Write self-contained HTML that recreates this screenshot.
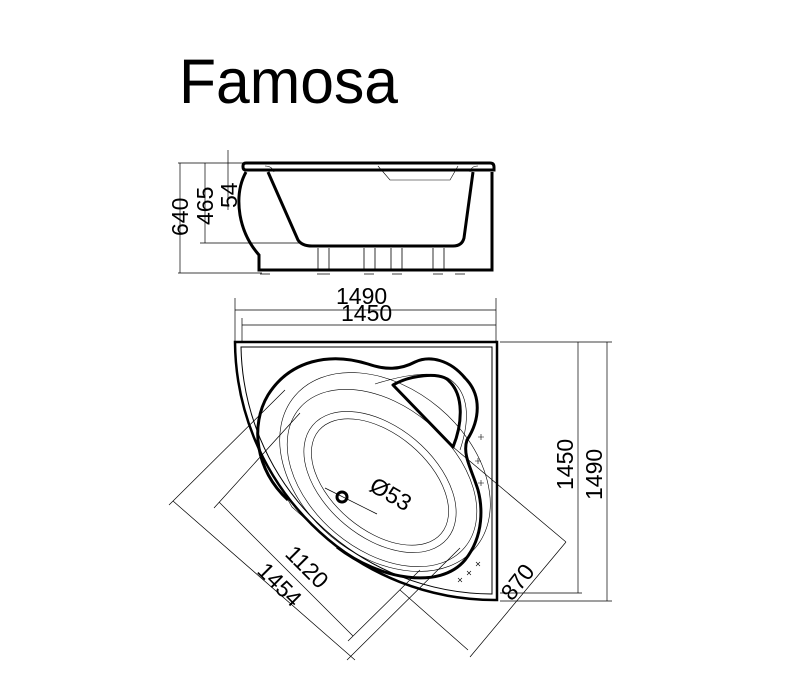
<!DOCTYPE html>
<html><head><meta charset="utf-8"><style>
html,body{margin:0;padding:0;background:#fff;width:800px;height:700px;overflow:hidden}
svg{display:block}
text{font-family:"Liberation Sans",sans-serif;fill:#000}
</style></head><body>
<svg width="800" height="700" viewBox="0 0 800 700" xmlns="http://www.w3.org/2000/svg">
<text x="179" y="103" font-size="63" textLength="219" lengthAdjust="spacingAndGlyphs">Famosa</text>

<!-- side view -->
<g fill="none" stroke="#000">
 <path d="M246,163 H490 Q494,163 494,167 V170 H246 Q243,170 243,167 V166 Q243,163 246,163 Z" stroke-width="3"/>
 <path d="M246,172 Q236,190 240,215 Q244,238 259,255 V270 H492 V172" stroke-width="3"/>
 <path d="M268,172 L298,240 Q302,246 312,246 H453 Q462,246 464,238 L473,172" stroke-width="3"/>
 <path d="M378,166 L390,180 H450 L458,166" stroke-width="0.6"/>
 <path d="M265,166 Q272,166 274,172 M470,172 Q471,166 478,166" stroke-width="0.6"/>
 <g stroke-width="0.8">
  <path d="M318,248 V270 M329,248 V270 M364,248 V270 M375,248 V270 M391,248 V270 M402,248 V270 M433,248 V270 M444,248 V270"/>
  <path d="M260,274 H270 M317,274 H330 M364,274 H374 M392,274 H402 M433,274 H443 M455,274 H465"/>
 </g>
 <g stroke-width="0.7">
  <path d="M178,163 H243 M178,273 H262 M200,243 H300 M180,163 V273 M205,163 V243 M228,150 V210 M222,163 H243"/>
 </g>
</g>
<g font-size="23">
 <text transform="translate(188,236) rotate(-90)">640</text>
 <text transform="translate(213,225) rotate(-90)">465</text>
 <text transform="translate(237,208) rotate(-90)">54</text>
</g>

<!-- top dims -->
<g stroke="#000" stroke-width="0.7" fill="none">
 <path d="M235,298 V342 M496,298 V342 M235,310 H496 M242,318 V342 M242,325 H496"/>
 <path d="M500,342 H612 M500,593 H582 M500,601 H612 M578,342 V593 M607,342 V601"/>
</g>
<text x="336" y="304" font-size="23">1490</text>
<text x="341" y="321" font-size="23">1450</text>
<text transform="translate(573,490) rotate(-90)" font-size="23">1450</text>
<text transform="translate(602,500) rotate(-90)" font-size="23">1490</text>

<!-- plan view -->
<g fill="none" stroke="#000">
 <path d="M235,342 H497 V600 H495 A260,260 0 0 1 235,342 Z" stroke-width="2.5"/>
 <path d="M241,347 H492 V594 H492 A252,252 0 0 1 241,347 Z" stroke-width="1"/>
 <path d="M337,547 C380,580 440,590 465,560 C485,535 482,505 478,490 C472,470 462,455 467,440 C480,420 482,395 465,378 C450,360 430,355 415,362 C400,370 385,370 368,364 C330,352 290,360 268,395 C250,425 255,470 288,500" stroke-width="3"/>
 <path d="M393,385 C410,375 440,372 448,380 C465,395 462,425 453,447 Z" stroke-width="3" stroke-linejoin="round"/>
 <g stroke-width="0.6">
  <ellipse cx="380" cy="482" rx="88" ry="55" transform="rotate(40 380 482)"/>
  <ellipse cx="380" cy="482" rx="80" ry="48" transform="rotate(40 380 482)"/>
  <ellipse cx="382" cy="478" rx="108" ry="72" transform="rotate(40 382 478)"/>
  <ellipse cx="385" cy="472" rx="118" ry="84" transform="rotate(40 385 472)"/>
  <path d="M288,500 L292,507 L318,530 L337,547"/>
  <path d="M375,384 C400,376 430,370 448,378 C470,392 470,420 460,450"/>
 </g>
 <circle cx="342" cy="497" r="5" stroke-width="3"/>
 <path d="M325,488 L377,514" stroke-width="0.7"/>
 <g stroke-width="0.6">
  <path d="M478,437 h6 m-3,-3 v6 M475,461 h6 m-3,-3 v6 M478,483 h6 m-3,-3 v6"/>
  <path d="M458,578 l4,4 m0,-4 l-4,4 M467,571 l4,4 m0,-4 l-4,4 M476,562 l4,4 m0,-4 l-4,4"/>
 </g>
 <g stroke-width="0.7">
  <path d="M173,501 L355,660 M219,502 L353,636 M169,505 L285,390 M214,508 L300,413 M348,641 L420,570 M347,660 L460,548"/>
  <path d="M566,542 L470,657 M566,542 L453,447 M468,650 L400,590"/>
 </g>
</g>
<text transform="translate(368,490) rotate(30)" font-size="23">Ø53</text>
<text transform="translate(284,555) rotate(45)" font-size="23">1120</text>
<text transform="translate(256,572) rotate(45)" font-size="23">1454</text>
<text transform="translate(512,602) rotate(-52)" font-size="23">870</text>
</svg>
</body></html>
